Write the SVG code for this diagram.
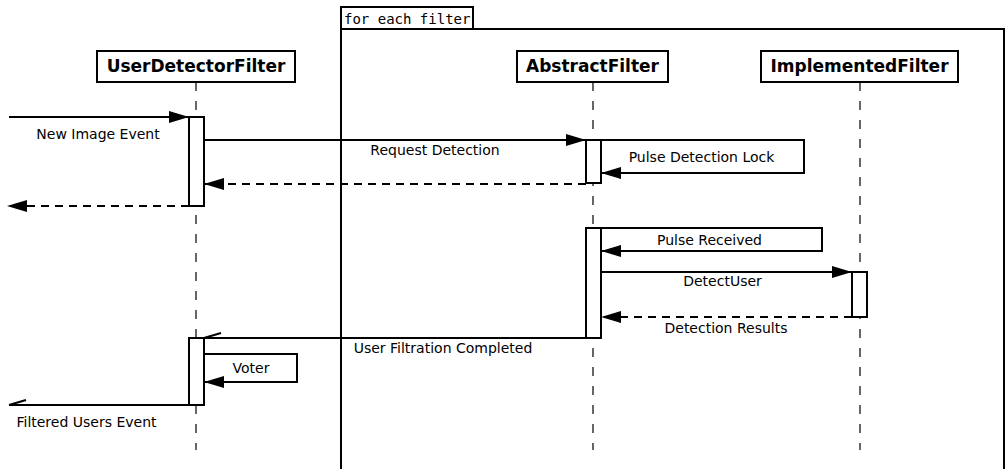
<svg xmlns="http://www.w3.org/2000/svg" width="1007" height="469" viewBox="0 0 1007 469">
<defs>
<marker id="arrow" markerUnits="userSpaceOnUse" markerWidth="20" markerHeight="12" refX="20" refY="6" orient="auto">
<path d="M0,0 L20,6 L0,12 z" fill="#000"/>
</marker>
<style>
.box{fill:#fff;stroke:#000;stroke-width:2}
.act{fill:#fff;stroke:#000;stroke-width:2}
.life{stroke:#000;stroke-width:1.2;stroke-dasharray:9,10;fill:none}
.msg{stroke:#000;stroke-width:2;fill:none}
.dash{stroke-dasharray:8,6}
.title{font-family:"DejaVu Sans",sans-serif;font-weight:bold;font-size:17px;text-anchor:middle}
.lbl{font-family:"DejaVu Sans",sans-serif;font-size:14px;text-anchor:middle}
.mono{font-family:"DejaVu Sans Mono",monospace;font-size:14px}
</style>
</defs>
<rect width="1007" height="469" fill="#fff"/>
<g id="frame">
<rect x="341" y="29" width="663" height="460" fill="none" stroke="#000" stroke-width="2"/>
<rect x="341" y="7" width="132" height="22" fill="#fff" stroke="#000" stroke-width="2"/>
<text class="mono" x="344" y="24">for each filter</text>
</g>
<g id="lifelines">
<line class="life" x1="196" y1="82" x2="196" y2="450"/>
<line class="life" x1="593" y1="82" x2="593" y2="450"/>
<line class="life" x1="860" y1="82" x2="860" y2="450"/>
</g>
<g id="UserDetectorFilter">
<rect class="box" x="97" y="51" width="198" height="31"/>
<text class="title" x="196" y="72">UserDetectorFilter</text>
<rect class="act" x="189" y="117" width="15" height="89"/>
<rect class="act" x="189" y="338" width="15" height="67"/>
</g>
<g id="AbstractFilter">
<rect class="box" x="517" y="51" width="151" height="31"/>
<text class="title" x="592.5" y="72">AbstractFilter</text>
<rect class="act" x="586" y="140" width="15" height="43"/>
<rect class="act" x="586" y="228" width="15" height="110"/>
</g>
<g id="ImplementedFilter">
<rect class="box" x="761" y="51" width="197" height="31"/>
<text class="title" x="859.5" y="72">ImplementedFilter</text>
<rect class="act" x="852" y="272" width="15" height="45"/>
</g>
<g id="connectors">
<line class="msg" x1="9" y1="117" x2="189" y2="117" marker-end="url(#arrow)"/>
<text class="lbl" x="98" y="139">New Image Event</text>
<line class="msg" x1="204" y1="140" x2="586" y2="140" marker-end="url(#arrow)"/>
<text class="lbl" x="435" y="155">Request Detection</text>
<polyline class="msg" points="601,140 804,140 804,173 601,173" marker-end="url(#arrow)"/>
<text class="lbl" x="701.5" y="162">Pulse Detection Lock</text>
<line class="msg dash" x1="586" y1="184" x2="204" y2="184" marker-end="url(#arrow)"/>
<line class="msg dash" x1="189" y1="206" x2="7" y2="206" marker-end="url(#arrow)"/>
<polyline class="msg" points="601,228 822,228 822,251 601,251" marker-end="url(#arrow)"/>
<text class="lbl" x="709.5" y="245">Pulse Received</text>
<line class="msg" x1="601" y1="272" x2="852" y2="272" marker-end="url(#arrow)"/>
<text class="lbl" x="722.5" y="286">DetectUser</text>
<line class="msg dash" x1="852" y1="317" x2="601" y2="317" marker-end="url(#arrow)"/>
<text class="lbl" x="726" y="333">Detection Results</text>
<line class="msg" x1="586" y1="338" x2="204" y2="338"/>
<line class="msg" x1="204" y1="338" x2="221" y2="333"/>
<text class="lbl" x="443" y="353">User Filtration Completed</text>
<polyline class="msg" points="204,354 297,354 297,382 204,382" marker-end="url(#arrow)"/>
<text class="lbl" x="251" y="373">Voter</text>
<line class="msg" x1="189" y1="405" x2="9" y2="405"/>
<line class="msg" x1="9" y1="405" x2="26" y2="400"/>
<text class="lbl" x="86.5" y="427">Filtered Users Event</text>
</g>
</svg>
